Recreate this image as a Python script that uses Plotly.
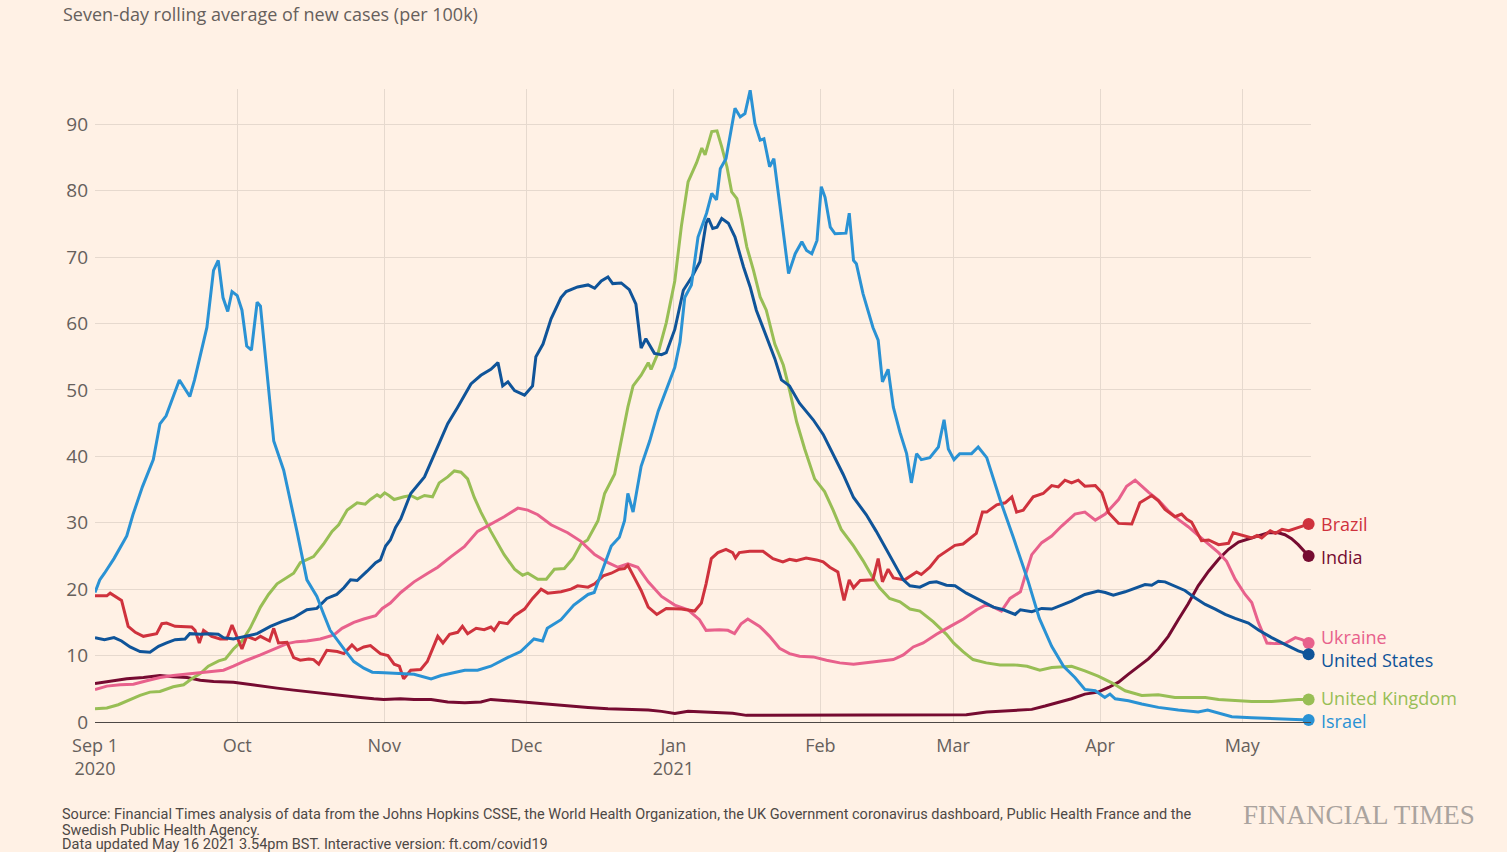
import pandas as pd
import plotly.graph_objects as go

START = pd.Timestamp("2020-09-01")

# ---- data: day offset from Sep 1 2020, seven-day average of new cases per 100k ----
israel_day = [0, 1, 2, 4, 6.7, 8, 10, 12.3, 13.7, 15, 17.8, 20, 21, 23.6, 25, 26, 27, 28, 28.9, 30, 31, 32, 33, 34.2,
              34.9, 36.3, 37.7, 39.8, 41.2, 42.6, 44.7, 46.8, 48.2, 49.6, 52.5, 54.6, 56.7, 58.5, 61, 64.5, 67.3, 70.9,
              73, 78, 80.7, 83.5, 87, 89.8, 92.6, 94.4, 95.4, 98.3, 101, 104, 105.3, 106.8, 108.9, 110.6, 111.7, 112.4,
              113.5, 115.2, 117, 118.8, 120.5, 122.3, 123.4, 124.4, 125.8, 127.2, 129, 130.1, 131.1, 131.9, 133.1, 135,
              136.1, 137.1, 138.2, 139.2, 140.3, 141.1, 142.3, 143.2, 144.5, 146.3, 147.7, 149.1, 150.1, 151.2, 152.3,
              153.2, 154, 155.1, 156.1, 157.9, 158.4, 159.1, 160, 160.6, 162, 164.1, 165.2, 166.1, 167.3, 168.4, 169.8,
              171.2, 172.2, 173.3, 174.3, 176.1, 177.9, 179.1, 180, 181.2, 182.4, 184.9, 186.3, 188.1, 189.5, 190.9,
              193.7, 196.7, 199.2, 201.8, 204.3, 206.7, 208.8, 211, 213, 214.1, 215.2, 218, 220.8, 224.3, 228.5, 232.7,
              234.7, 237, 239.8, 244, 248.2, 252.4, 256]
israel_val = [19.5, 21.4, 22.4, 24.6, 28, 31.2, 35.4, 39.5, 44.9, 46.1, 51.5, 49, 51.5, 59.4, 68, 69.5, 63.9, 61.8, 64.8,
              64.2, 62, 56.6, 56, 63.2, 62.6, 52.5, 42.3, 37.9, 33.5, 28.7, 21.4, 18.9, 16.3, 13.8, 11, 9.1, 8.1, 7.5,
              7.4, 7.3, 7.2, 6.5, 7, 7.8, 7.8, 8.4, 9.7, 10.6, 12.5, 12.2, 14.1, 15.4, 17.6, 19.2, 19.5, 22.4, 26.5,
              27.8, 30.3, 34.4, 31.6, 38.5, 42.3, 46.8, 49.9, 53.4, 57.2, 63.9, 65.8, 73, 76.6, 79.6, 78.6, 83.3, 84.8,
              92.4, 91.1, 91.6, 95.1, 90.1, 87.6, 87.8, 83.6, 84.8, 77.6, 67.5, 70.5, 72.3, 71, 70.5, 72.5, 80.6, 79,
              74.5, 73.5, 73.5, 73.6, 76.6, 69.5, 69, 64.5, 59.4, 57.5, 51.2, 53.1, 47.4, 43.6, 40.4, 36, 40.4, 39.5,
              39.8, 41.4, 45.5, 41.1, 39.5, 40.4, 40.4, 41.4, 39.8, 36.6, 33.5, 27.8, 21.5, 15.6, 11.4, 8.4, 6.7, 4.9,
              4.7, 3.7, 4.2, 3.5, 3.2, 2.7, 2.2, 1.8, 1.5, 1.8, 1.4, 0.8, 0.65, 0.5, 0.4, 0.3]

us_day = [0, 2, 4, 5.6, 7.4, 9.5, 11.6, 13.4, 15.1, 16.9, 19, 20, 22.2, 24.3, 26, 27.1, 29.2, 32, 34.2, 37, 39.4, 41.9,
          44.7, 46.8, 48.9, 51, 52.5, 53.9, 55.3, 57.4, 59.2, 60.2, 61.3, 62.3, 63.4, 64.5, 66.6, 69.5, 71.6, 74.4, 76.5,
          79.3, 81.4, 83.5, 85, 86, 87.1, 88.5, 90.6, 92.3, 93, 94.5, 96.2, 98.3, 99.4, 101.8, 104, 105.4, 106.8, 108.2,
          109.2, 111, 112.7, 114.1, 115.2, 116.2, 118, 119.5, 120.5, 122.3, 124.1, 125.9, 127.6, 128.9, 129.4, 130.3,
          131.2, 132.2, 133.6, 135, 136.8, 138.2, 139.5, 141.6, 143.4, 144.8, 146.5, 148.6, 151.5, 153.6, 155.7, 157.8,
          160, 162.7, 164.8, 167, 169.1, 170.5, 171.9, 174, 176.1, 177.5, 179.6, 181.4, 183.8, 186.7, 189.5, 191.6,
          194.1, 195.2, 197.6, 199.7, 201.8, 203.9, 206, 208.8, 211.6, 213.1, 214.8, 217.3, 219.4, 221.5, 222.9, 224.3,
          225.7, 227.8, 229.9, 232, 234.2, 236.3, 238.4, 240.5, 243.3, 245.5, 248.2, 251, 253.8, 256]
us_val = [12.7, 12.4, 12.7, 12.2, 11.3, 10.6, 10.5, 11.4, 11.9, 12.4, 12.5, 13.3, 13.2, 13.3, 13.2, 12.7, 12.5, 12.9,
          13.3, 14.4, 15.1, 15.7, 16.9, 17.1, 18.6, 19.2, 20.2, 21.4, 21.3, 22.7, 24, 24.4, 26.5, 27.4, 29.3, 30.6, 34.4,
          36.9, 40.4, 44.9, 47.4, 50.9, 52.2, 53.1, 54.1, 50.6, 51.2, 49.9, 49.2, 50.6, 55, 56.9, 60.7, 63.9, 64.8, 65.5,
          65.8, 65.3, 66.4, 67, 66, 66.1, 65.1, 62.9, 56.3, 57.7, 55.5, 55.3, 55.6, 59.1, 65, 67, 69.3, 75.1, 75.8, 74.3,
          74.5, 75.8, 75.1, 73, 68.5, 65.5, 62, 58.2, 54.7, 51.5, 50.6, 48, 45.5, 43.3, 40.4, 37.3, 33.8, 31.2, 28.7,
          25.9, 23, 21.4, 20.5, 20.3, 21, 21.1, 20.6, 20.5, 19.4, 18.3, 17.3, 16.9, 16.2, 16.9, 16.6, 17.1, 17, 17.6,
          18.2, 19.2, 19.7, 19.5, 19.1, 19.6, 20.2, 20.7, 20.6, 21.2, 21.1, 20.5, 19.8, 18.7, 17.7, 17, 16.2, 15.6, 14.9,
          13.8, 12.7, 11.7, 10.7, 10.2]

uk_day = [0, 2.5, 4.9, 7.4, 9.5, 11.6, 13.7, 16.5, 18.7, 20.4, 22.2, 23.9, 26.1, 27.5, 29.2, 31, 32.7, 34.9, 36.6, 38.4,
          39.8, 41.9, 43.3, 46.1, 48.2, 50, 51.4, 53.2, 55.3, 57, 58.1, 59.5, 60.2, 61.1, 62, 63.1, 65.2, 66.6, 68, 69.5,
          71.2, 72.6, 74.4, 75.8, 77.2, 78.6, 80, 81.4, 83.5, 84.6, 86.3, 88.5, 90.2, 91.3, 93.4, 95.2, 96.9, 99, 100.8,
          102.5, 103.9, 106.1, 107.5, 109.6, 111, 112.4, 113.5, 115.2, 116.7, 117.3, 118.8, 120.5, 122.3, 123.7, 125.1,
          126.9, 128, 128.7, 130.1, 131.2, 132.2, 133.3, 134.3, 135.4, 136.4, 137.5, 138.9, 140.3, 141.6, 143.4, 145.2,
          146.5, 148, 149.7, 151.8, 153.9, 155.7, 157.4, 160, 162, 164.1, 165.5, 167.6, 169.8, 171.9, 174, 176.8, 179.6,
          181.1, 183.1, 185.2, 188, 190.9, 193.8, 196.6, 199.3, 201.8, 203.9, 206, 208.8, 211.6, 214.5, 217.3, 220.8,
          224.3, 227.8, 231.3, 234.2, 237, 240.5, 244, 248.2, 251, 253.8, 256]
uk_val = [2, 2.1, 2.6, 3.4, 4, 4.5, 4.6, 5.3, 5.6, 6.5, 7.3, 8.4, 9.2, 9.5, 11, 12.2, 14.1, 17.3, 19.2, 20.8, 21.4, 22.4,
          24, 24.9, 26.8, 28.7, 29.7, 31.9, 33, 32.8, 33.5, 34.2, 33.9, 34.5, 34.1, 33.5, 33.9, 34.1, 33.6, 34.1, 33.9, 36,
          36.9, 37.8, 37.6, 36.6, 33.8, 31.6, 28.7, 27.4, 25.2, 23, 22.1, 22.4, 21.5, 21.5, 23, 23.1, 24.6, 26.8, 27.4,
          30.3, 34.4, 37.3, 42.3, 47.4, 50.6, 52.2, 54.1, 53.1, 55.6, 60.1, 66.4, 74.7, 81.3, 84.2, 86.4, 85.4, 88.9, 89,
          86.6, 83.6, 79.8, 78.8, 75.6, 71.5, 68, 64, 62, 56.9, 53.7, 50, 45.2, 41.1, 36.6, 34.7, 31.9, 29, 26.5, 24.3,
          21.7, 20.2, 18.6, 18.1, 17, 16.7, 15.1, 13.2, 11.9, 10.6, 9.4, 8.9, 8.6, 8.6, 8.4, 7.8, 8.2, 8.3, 8.4, 7.7, 6.9,
          5.9, 4.7, 4, 4.1, 3.7, 3.7, 3.7, 3.4, 3.3, 3.1, 3.1, 3.3, 3.4, 3.4]

brazil_day = [0, 2.5, 3.2, 4.9, 5.6, 7, 8.5, 10.2, 11.6, 13, 14.1, 15.1, 16.9, 18.7, 20.4, 21.1, 22, 22.9, 24.6, 26.4,
              27.8, 28.9, 29.9, 31, 32, 33.8, 34.9, 35.9, 36.8, 37.7, 38.7, 40.5, 41.9, 43.3, 45.1, 46.1, 47.2, 48.9,
              51.1, 52.5, 54.2, 55.3, 56.7, 58.1, 60.2, 61.8, 63.1, 64.2, 65.1, 66.6, 68.7, 70.1, 71.2, 72.3, 73.4, 74.8,
              76.5, 77.5, 78.6, 80.4, 82.1, 83.5, 84.2, 85.3, 87, 88.5, 90.6, 92.3, 94.1, 95.5, 98.3, 100.4, 101.8, 104,
              105.4, 107.2, 108.9, 110.6, 111.7, 112.4, 113.8, 115.2, 116.7, 118.5, 120.5, 123.7, 126.5, 127.9, 128.9,
              130, 131.4, 133.1, 134.5, 135.1, 135.9, 138.1, 140.9, 143, 145.1, 146.5, 147.9, 150, 152.2, 153.6, 155,
              156.7, 157.4, 158, 159.1, 160, 161.4, 162.7, 164.1, 165.2, 166.1, 167.3, 168.4, 170.8, 173.3, 174.3, 176.1,
              177.9, 179.6, 181.4, 183.1, 185.9, 187.2, 188.1, 190.2, 192, 193.4, 194.4, 195.8, 197.9, 200, 201.8, 203.2,
              204.6, 206, 207.4, 208.8, 211, 212.4, 213.8, 215.9, 218.7, 220.4, 222.9, 224.3, 225.7, 227.8, 229.2, 230.3,
              231.3, 233.4, 234.9, 237, 239.1, 240.1, 241.9, 244, 245.1, 246.1, 247.9, 249, 250.4, 251.8, 253.9, 256]
brazil_val = [19, 19, 19.4, 18.6, 18.3, 14.4, 13.5, 12.9, 13.1, 13.3, 14.8, 14.9, 14.4, 14.4, 14.3, 13.8, 11.9, 13.8,
              12.9, 12.5, 12.5, 14.6, 12.9, 11, 12.9, 12.4, 12.9, 12.5, 12.2, 14.1, 11.9, 12, 9.7, 9.3, 9.5, 9.4, 8.7,
              10.8, 10.6, 10.3, 11.6, 10.8, 11.3, 11.5, 10.3, 10, 8.7, 8.4, 6.5, 7.8, 7.9, 9.1, 11, 12.9, 11.9, 13.2,
              13.5, 14.4, 13.3, 14.1, 13.9, 14.3, 13.8, 15, 14.8, 16, 17, 18.6, 20, 19.4, 19.6, 20, 20.5, 20.3, 20.8, 22,
              22.4, 23, 23.1, 23.6, 21.7, 19.8, 17.3, 16.2, 17.1, 17, 16.7, 17.9, 20.8, 24.6, 25.5, 26, 25.5, 24.7, 25.5,
              25.7, 25.7, 24.6, 24.1, 24.5, 24.3, 24.7, 24.4, 24.1, 23.3, 22.6, 20.2, 18.3, 21.4, 20.2, 21.3, 21.4, 21.4,
              24.6, 21.1, 23, 21.7, 21.4, 22.6, 22.2, 23.3, 24.9, 25.7, 26.6, 26.8, 28.4, 31.6, 31.6, 32.7, 33, 33.9,
              31.6, 31.9, 33.9, 34.4, 35.6, 35.4, 36.4, 36, 36.4, 35.5, 35.6, 34.5, 31.5, 29.9, 29.8, 33, 34.1, 33.3, 32,
              30.9, 31.3, 30.5, 30.1, 27.3, 27.4, 26.7, 26.9, 28.5, 28.1, 27.7, 28.1, 27.7, 28.8, 28.4, 29, 28.8, 29.3,
              29.8]

ukraine_day = [0, 2.5, 5.3, 8.1, 10.9, 13.7, 16.5, 19.4, 22.2, 25, 27.1, 29.2, 32, 34.9, 37.7, 40.5, 42.6, 44.7, 47.5,
               50.4, 52.1, 54.6, 56.7, 59.2, 60.6, 62.3, 64.5, 67.3, 70.2, 72.3, 75.1, 77.9, 80.7, 83.5, 86.3, 89.2, 91.3,
               93.4, 96.2, 99.7, 102.5, 105.4, 108.2, 110.3, 112.4, 114.5, 116.7, 119.5, 122.3, 125.1, 127.5, 128.9,
               131.7, 133.5, 134.9, 136.3, 137.7, 140.2, 142.3, 144.4, 146.5, 148.6, 151.5, 154.3, 157.1, 160, 162.7,
               165.5, 168.4, 170.5, 172.6, 174.7, 177.5, 180.4, 183.2, 186, 188.1, 189.5, 191.2, 193, 195.2, 196.2,
               197.6, 199.7, 201.8, 203.9, 206.7, 208.8, 211, 213.1, 215.9, 217.6, 219.4, 220.8, 222.2, 224.3, 226.4,
               228.5, 230.6, 232.7, 234.9, 237, 238.7, 240.5, 242.6, 244, 245.4, 247.2, 248.9, 251, 253.2, 254.6, 256]
ukraine_val = [4.9, 5.4, 5.6, 5.7, 6.2, 6.7, 7, 7.2, 7.5, 7.6, 7.8, 8.4, 9.3, 10.1, 11, 11.8, 12.1, 12.2, 12.5, 13.1,
               14.1, 15, 15.5, 16, 17.1, 17.9, 19.5, 21.1, 22.4, 23.3, 24.9, 26.4, 28.7, 29.8, 30.9, 32.2, 31.9, 31.2,
               29.7, 28.5, 27.2, 25.2, 24, 23.3, 23.8, 23.3, 21.1, 18.9, 17.6, 16.9, 15.4, 13.8, 13.9, 13.8, 13.3, 14.8,
               15.5, 14.4, 12.9, 11.1, 10.3, 9.9, 9.8, 9.3, 8.9, 8.7, 8.9, 9.1, 9.4, 10.1, 11.3, 11.9, 13.2, 14.4, 15.5,
               16.9, 17.7, 17.3, 16.7, 18.6, 19.6, 22, 25.2, 27, 28, 29.5, 31.3, 31.6, 30.4, 31.3, 33.5, 35.5, 36.4, 35.5,
               34.6, 33.4, 31.8, 30.5, 29.4, 28.1, 26.7, 25.5, 24.2, 21.5, 19.2, 18, 15, 11.9, 11.8, 11.8, 12.7, 12.4,
               11.9]

india_day = [0, 3.2, 6.7, 10.2, 13.7, 16.5, 19.4, 22.2, 25, 29.2, 32, 34.9, 38.4, 41.9, 45.4, 48.9, 52.5, 56, 58.8, 60.9,
             64.4, 67.3, 70.9, 74.4, 78, 81.4, 83.5, 87, 91.3, 95.5, 99.7, 104, 108.2, 112.4, 116.7, 119.5, 122.3, 125.1,
             128.6, 132.2, 134.5, 137.4, 148.6, 162.7, 174, 176.8, 183.8, 188.1, 190.9, 194.8, 197.6, 200.4, 203.2, 206,
             208.8, 211.6, 213.8, 215.9, 218, 220.1, 222.2, 224.3, 226.4, 228.5, 230.6, 232.7, 234.9, 237, 239.1, 241.2,
             243.3, 245.4, 247.5, 249.6, 251, 252.4, 253.8, 256]
india_val = [5.8, 6.1, 6.5, 6.7, 7, 6.8, 6.7, 6.3, 6.1, 6, 5.7, 5.4, 5.1, 4.8, 4.5, 4.2, 3.9, 3.7, 3.5, 3.4, 3.5, 3.4, 3.4,
             3, 2.9, 3, 3.4, 3.2, 2.9, 2.6, 2.4, 2.2, 2, 1.9, 1.8, 1.6, 1.3, 1.6, 1.5, 1.3, 1.3, 1, 1, 1, 1, 1.1, 1.1,
             1.5, 1.6, 1.7, 1.9, 2.4, 2.9, 3.5, 4.2, 4.5, 5.2, 6, 7.2, 8.3, 9.5, 11, 12.9, 15.4, 17.8, 20.5, 22.7, 24.5,
             26, 27.1, 27.6, 28, 28.5, 28.5, 28.2, 27.6, 26.7, 25]

countries = ["India", "United Kingdom", "Ukraine", "Brazil", "United States", "Israel"]
label_y = {"Brazil": 29.8, "India": 24.8, "Ukraine": 12.8, "United States": 9.3,
           "United Kingdom": 3.6, "Israel": 0.15}

tick_dates = ["2020-09-01", "2020-10-01", "2020-11-01", "2020-12-01", "2021-01-01",
              "2021-02-01", "2021-03-01", "2021-04-01", "2021-05-01"]
tick_text = ["Sep 1<br>2020", "Oct", "Nov", "Dec", "Jan<br>2021", "Feb", "Mar", "Apr", "May"]
y_ticks = [0, 10, 20, 30, 40, 50, 60, 70, 80, 90]

# ---- styling ----
colors = {"Israel": "#2a92d4", "United States": "#0f5499", "United Kingdom": "#98be55",
          "Brazil": "#cf323d", "Ukraine": "#e8618c", "India": "#760b31"}
series = {"Israel": (israel_day, israel_val), "United States": (us_day, us_val),
          "United Kingdom": (uk_day, uk_val), "Brazil": (brazil_day, brazil_val),
          "Ukraine": (ukraine_day, ukraine_val), "India": (india_day, india_val)}

BG = "#fff1e5"
TXT = "#66605c"
FONT = "Open Sans"

fig = go.Figure()
for c in countries:
    d, v = series[c]
    x = START + pd.to_timedelta(d, unit="D")
    fig.add_trace(go.Scatter(x=x, y=v, mode="lines", line=dict(color=colors[c], width=3),
                             name=c, showlegend=False, hoverinfo="x+y+name"))
for c in countries:
    d, v = series[c]
    x = START + pd.to_timedelta(d[-1:], unit="D")
    fig.add_trace(go.Scatter(x=x, y=v[-1:], mode="markers", cliponaxis=False,
                             marker=dict(color=colors[c], size=12), showlegend=False, hoverinfo="skip"))
    fig.add_annotation(x=x[0], y=label_y[c], text=c, showarrow=False, xanchor="left", yanchor="middle",
                       xshift=10, font=dict(family=FONT, size=18, color=colors[c]))

x_end = START + pd.Timedelta(days=256.5)
fig.update_xaxes(range=[START, x_end], tickvals=tick_dates, ticktext=tick_text, showgrid=True,
                 gridcolor="#e6d9ce", gridwidth=1, showline=True, linecolor="#4d4845", linewidth=1,
                 ticks="", ticklabelstandoff=7, tickfont=dict(family=FONT, size=18, color=TXT), zeroline=False)
fig.update_yaxes(range=[0, 95.3], tickvals=y_ticks, showgrid=True, gridcolor="#e6d9ce", gridwidth=1,
                 zeroline=False, showline=False, ticks="", ticklabelstandoff=6,
                 tickfont=dict(family=FONT, size=19, color=TXT))

PLOT_TOP, PLOT_BOTTOM, PLOT_LEFT, PLOT_RIGHT = 89, 722, 95, 1311
H = PLOT_BOTTOM - PLOT_TOP
W = PLOT_RIGHT - PLOT_LEFT


def px_to_paper(px, py):
    return (px - PLOT_LEFT) / W, (PLOT_BOTTOM - py) / H


tx, ty = px_to_paper(61, 14)
fig.add_annotation(xref="paper", yref="paper", x=tx, y=ty, xanchor="left", yanchor="middle", showarrow=False,
                   text="Seven-day rolling average of new cases (per 100k)",
                   font=dict(family=FONT, size=18, color=TXT))

footer = ["Source: Financial Times analysis of data from the Johns Hopkins CSSE, the World Health Organization, "
          "the UK Government coronavirus dashboard, Public Health France and the",
          "Swedish Public Health Agency.",
          "Data updated May 16 2021 3.54pm BST. Interactive version: ft.com/covid19"]
for line, py in zip(footer, [814, 830, 845]):
    fx, fy = px_to_paper(60, py)
    fig.add_annotation(xref="paper", yref="paper", x=fx, y=fy, xanchor="left", yanchor="middle",
                       showarrow=False, text=line, font=dict(family="Roboto", size=14.5, color="#4d4845"))

lx, ly = px_to_paper(1477, 815)
fig.add_annotation(xref="paper", yref="paper", x=lx, y=ly, xanchor="right", yanchor="middle", showarrow=False,
                   text="FINANCIAL TIMES", font=dict(family="Liberation Serif", size=27, color="#aaa39e"))

fig.update_layout(width=1507, height=852, paper_bgcolor=BG, plot_bgcolor=BG,
                  margin=dict(l=PLOT_LEFT, r=1507 - PLOT_RIGHT, t=PLOT_TOP, b=852 - PLOT_BOTTOM),
                  hovermode="closest")

fig.write_html("out.html", config={"displayModeBar": False},
               post_script="document.body.style.margin='0';")
